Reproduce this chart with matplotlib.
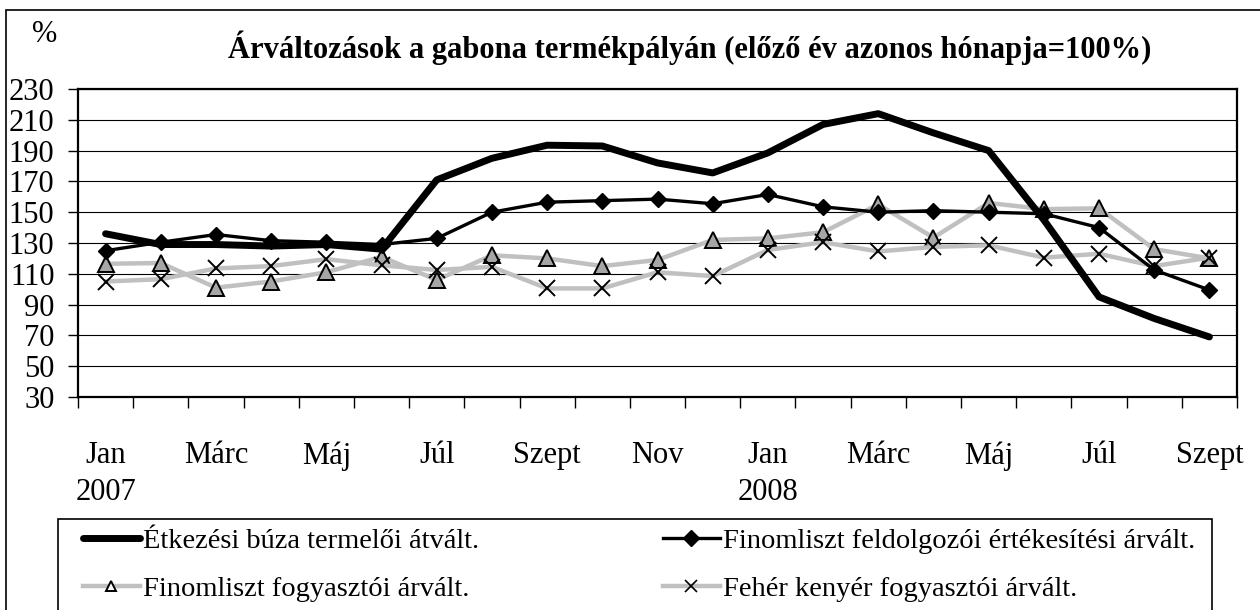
import matplotlib
matplotlib.use("Agg")
import matplotlib.pyplot as plt
from matplotlib.patches import Rectangle
from matplotlib.lines import Line2D

plt.rcParams["font.family"] = ["Liberation Serif", "DejaVu Serif"]

# ---------------------------------------------------------------------------
# data, Jan 2007 .. Szept 2008
# ---------------------------------------------------------------------------
months = ["Jan 2007", "Febr", "Márc", "Ápr", "Máj", "Jún", "Júl", "Aug", "Szept",
          "Okt", "Nov", "Dec", "Jan 2008", "Febr", "Márc", "Ápr", "Máj", "Jún",
          "Júl", "Aug", "Szept"]
buza_termeloi = [136, 129, 129, 128, 129, 126, 171, 185, 193.5, 193, 182, 175.5,
                 188.5, 207, 214, 201.5, 190, 145, 95, 81, 69]
liszt_feldolgozoi = [125, 130.5, 135.5, 131.5, 130.5, 129, 133, 150, 156.5, 157.5,
                     158.5, 155.5, 161.5, 153.5, 150, 151, 150, 149, 140, 112.5, 99.5]
liszt_fogyasztoi = [116.5, 117, 101, 105, 111, 121, 106, 122, 120, 115, 119, 132,
                    133, 137, 155, 133.5, 156, 152, 152.5, 126, 120]
kenyer_fogyasztoi = [105, 106.5, 113.5, 115, 119.5, 115.5, 112.5, 114.5, 100.5, 100.5,
                     111, 108.5, 125.5, 130.5, 124.5, 127.5, 128.5, 120.5, 123, 115, 120.5]

tick_labels = ["Jan\n2007", "Márc", "Máj", "Júl", "Szept", "Nov",
               "Jan\n2008", "Márc", "Máj", "Júl", "Szept"]
series_names = ["Étkezési búza termelői átvált.",
                "Finomliszt feldolgozói értékesítési árvált.",
                "Finomliszt fogyasztói árvált.",
                "Fehér kenyér fogyasztói árvált."]

W, H = 1260, 610
GRAY = "#c0c0c0"
FS = 22
LEG_FS = 20.5

fig = plt.figure(figsize=(W / 100, H / 100), dpi=100)
ax = fig.add_axes([78 / W, 1 - 397 / H, (1237 - 78) / W, (397 - 89) / H])

x = list(range(len(months)))
ax.plot(x, liszt_fogyasztoi, color=GRAY, lw=3.2, marker="^", ms=11,
        mfc="#a6a6a6", mec="black", mew=1.4, zorder=3)
ax.plot(x, kenyer_fogyasztoi, color=GRAY, lw=3.2, marker="x", ms=11,
        mec="black", mew=1.4, zorder=3)
ax.plot(x, buza_termeloi, color="black", lw=5, solid_capstyle="round", zorder=4)
ax.plot(x, liszt_feldolgozoi, color="black", lw=2.4, marker="D", ms=8, zorder=5)

ax.set_xlim(-0.5, len(months) - 0.5)
ax.set_ylim(30, 230)
ax.set_yticks(range(30, 231, 20))
ax.yaxis.grid(True, color="black", lw=0.8)
ax.set_axisbelow(True)

# category boundaries get the tick marks, labels sit on every second month
ax.set_xticks([i - 0.5 for i in range(len(months) + 1)])
ax.set_xticklabels([])
ax.set_xticks(x[::2], minor=True)
ax.set_xticklabels(tick_labels, minor=True, linespacing=1.35)
ax.tick_params(axis="x", which="major", direction="out", length=8, width=1)
ax.tick_params(axis="x", which="minor", length=0, pad=32, labelsize=FS)
ax.tick_params(axis="y", direction="out", length=7, width=1, pad=10, labelsize=FS)
for s in ax.spines.values():
    s.set_linewidth(1.6)

fig.text(690 / W, 1 - 48 / H,
         "Árváltozások a gabona termékpályán (előző év azonos hónapja=100%)",
         ha="center", va="center", fontsize=FS, fontweight="bold")
fig.text(45 / W, 1 - 35 / H, "%", ha="center", va="center", fontsize=FS)

# outer frame (runs off the right and bottom edges like the original)
fig.patches.append(Rectangle((6 / W, -0.05), 1.1, 1 - 9.5 / H + 0.05, fill=False,
                             ec="black", lw=1.2, transform=fig.transFigure))
# legend frame
fig.patches.append(Rectangle((58 / W, -0.05), (1212 - 58) / W, 1 - 519 / H + 0.05,
                             fill=False, ec="black", lw=1.2, transform=fig.transFigure))

handles = [
    Line2D([], [], color="black", lw=5, solid_capstyle="round"),
    Line2D([], [], color=GRAY, lw=3.2, marker="^", ms=7, mfc="white", mec="black", mew=1.4),
    Line2D([], [], color="black", lw=2.4, marker="D", ms=8),
    Line2D([], [], color=GRAY, lw=3.2, marker="x", ms=8, mec="black", mew=1.2),
]
labels = [series_names[0], series_names[2], series_names[1], series_names[3]]
fig.legend(handles, labels, loc="upper left", ncol=2, mode="expand",
           bbox_to_anchor=(83 / W, 1 - 528 / H, (1195 - 83) / W, 0),
           frameon=False, fontsize=LEG_FS, handlelength=2.0, handletextpad=0.1,
           labelspacing=0.79, borderpad=0, borderaxespad=0)

fig.savefig("out.png", dpi=100)
